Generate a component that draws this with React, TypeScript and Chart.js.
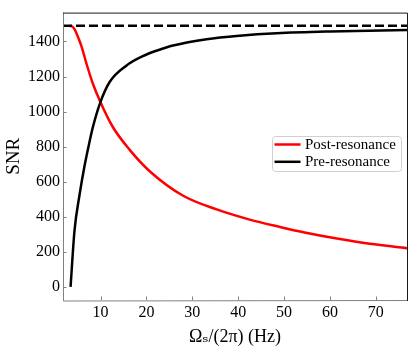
import React, { useEffect, useRef } from "react";
import { Chart, registerables } from "chart.js";

Chart.register(...registerables);

// ---- data ----
const postFreq = [3.3, 3.8, 4.3, 5.0, 5.8, 6.9, 8.3, 9.9, 12.6, 16.3, 20.7, 28.0, 35.3, 42.5, 49.1, 54.2, 61.5, 68.7, 76.8];
const postSNR = [1488, 1485, 1470, 1430, 1375, 1275, 1160, 1058, 915, 783, 660, 520, 442, 384, 342, 312, 276, 246, 221];

const preFreq = [3.45, 4.3, 5.4, 6.5, 7.6, 8.3, 9.9, 12.0, 15.6, 19.2, 22.5, 25.8, 33.1, 40.3, 48.4, 60.0, 76.8];
const preSNR = [0, 319, 524, 691, 830, 910, 1050, 1170, 1262, 1316, 1350, 1377, 1413, 1433, 1447, 1457, 1465];

const limitSNR = 1490;
const xRange = [1.8, 76.8];
const yRange = [-74.5, 1564.5];
const xTicks = [10, 20, 30, 40, 50, 60, 70];
const yTicks = [0, 200, 400, 600, 800, 1000, 1200, 1400];
const seriesLabels = ["Post-resonance", "Pre-resonance"];
const seriesColors = ["#ff0000", "#000000"];
const xTitle = "Ωₛ/(2π) (Hz)";
const yTitle = "SNR";

const FONT = '"Liberation Serif", "DejaVu Serif", serif';

const framePlugin = {
  id: "frame",
  afterDraw(chart: any) {
    const { ctx, chartArea: a, scales } = chart;
    ctx.save();
    // inward ticks
    ctx.strokeStyle = "#808080";
    ctx.lineWidth = 1;
    ctx.beginPath();
    for (const v of xTicks) {
      const px = Math.round(scales.x.getPixelForValue(v)) + 0.5;
      ctx.moveTo(px, a.bottom);
      ctx.lineTo(px, a.bottom - 3.5);
    }
    for (const v of yTicks) {
      const py = Math.round(scales.y.getPixelForValue(v)) + 0.5;
      ctx.moveTo(a.left, py);
      ctx.lineTo(a.left + 3.5, py);
    }
    ctx.stroke();
    // spines
    ctx.strokeStyle = "#808080";
    ctx.beginPath();
    ctx.moveTo(a.left + 0.5, a.top);
    ctx.lineTo(a.left + 0.5, a.bottom + 1);
    ctx.lineTo(a.right, a.bottom + 0.5);
    ctx.stroke();
    ctx.strokeStyle = "#1a1a1a";
    ctx.beginPath();
    ctx.moveTo(a.left, a.top + 0.5);
    ctx.lineTo(a.right + 0.5, a.top + 0.5);
    ctx.lineTo(a.right + 0.5, a.bottom + 1);
    ctx.stroke();

    // legend (center right, inside axes)
    const bx = 272.5, by = 136.5, bw = 129, bh = 35;
    ctx.fillStyle = "rgba(255,255,255,0.85)";
    ctx.strokeStyle = "#d0d0d0";
    ctx.beginPath();
    ctx.roundRect(bx, by, bw, bh, 3);
    ctx.fill();
    ctx.stroke();
    ctx.font = `15px ${FONT}`;
    ctx.textBaseline = "middle";
    ctx.textAlign = "left";
    seriesLabels.forEach((lab, i) => {
      const yy = 144.5 + i * 17.3;
      ctx.strokeStyle = seriesColors[i];
      ctx.lineWidth = 2.5;
      ctx.beginPath();
      ctx.moveTo(274.5, yy);
      ctx.lineTo(300.5, yy);
      ctx.stroke();
      ctx.fillStyle = "#000";
      ctx.fillText(lab, 305, yy + 0.5);
    });
    ctx.restore();
  },
};

export default function App() {
  const ref = useRef<HTMLCanvasElement | null>(null);

  useEffect(() => {
    if (!ref.current) return;
    const toPts = (xs: number[], ys: number[]) => xs.map((x, i) => ({ x, y: ys[i] }));
    const chart = new Chart(ref.current, {
      type: "line",
      data: {
        datasets: [
          {
            label: "limit",
            data: [
              { x: xRange[0], y: limitSNR },
              { x: xRange[1], y: limitSNR },
            ],
            borderColor: "#000",
            borderWidth: 2.5,
            borderDash: [9, 4],
            pointRadius: 0,
            fill: false,
            order: 0,
          },
          {
            label: seriesLabels[1],
            data: toPts(preFreq, preSNR),
            borderColor: seriesColors[1],
            borderWidth: 2.5,
            pointRadius: 0,
            cubicInterpolationMode: "monotone",
            fill: false,
            order: 1,
          },
          {
            label: seriesLabels[0],
            data: toPts(postFreq, postSNR),
            borderColor: seriesColors[0],
            borderWidth: 2.5,
            pointRadius: 0,
            cubicInterpolationMode: "monotone",
            fill: false,
            order: 2,
          },
        ],
      },
      options: {
        animation: false,
        responsive: false,
        events: [],
        layout: { padding: { top: 7, right: 8, left: 0, bottom: 0 } },
        plugins: { legend: { display: false }, tooltip: { enabled: false } },
        scales: {
          x: {
            type: "linear",
            min: xRange[0],
            max: xRange[1],
            grid: { display: false, drawTicks: false },
            border: { display: false },
            afterBuildTicks: (s: any) => {
              s.ticks = xTicks.map((v) => ({ value: v }));
            },
            afterFit: (s: any) => {
              s.height = 54;
            },
            ticks: {
              color: "#000",
              font: { family: FONT, size: 16 },
              padding: 3,
              maxRotation: 0,
              autoSkip: false,
              callback: (v: any) => String(v),
            },
            title: {
              display: true,
              text: xTitle,
              color: "#000",
              font: { family: FONT, size: 18 },
              padding: { top: 0, bottom: 6 },
            },
          },
          y: {
            type: "linear",
            min: yRange[0],
            max: yRange[1],
            grid: { display: false, drawTicks: false },
            border: { display: false },
            afterBuildTicks: (s: any) => {
              s.ticks = yTicks.map((v) => ({ value: v }));
            },
            afterFit: (s: any) => {
              s.width = 63;
            },
            ticks: {
              color: "#000",
              font: { family: FONT, size: 16 },
              padding: 3,
              autoSkip: false,
              callback: (v: any) => String(v),
            },
            title: {
              display: true,
              text: yTitle,
              color: "#000",
              font: { family: FONT, size: 19 },
              padding: { top: 3, bottom: 0 },
            },
          },
        },
      },
      plugins: [framePlugin],
    } as any);
    return () => chart.destroy();
  }, []);

  return (
    <div style={{ position: "absolute", left: 0, top: 0, width: 415, height: 354, background: "#fff" }}>
      <canvas ref={ref} width={415} height={354} style={{ display: "block" }} />
    </div>
  );
}
